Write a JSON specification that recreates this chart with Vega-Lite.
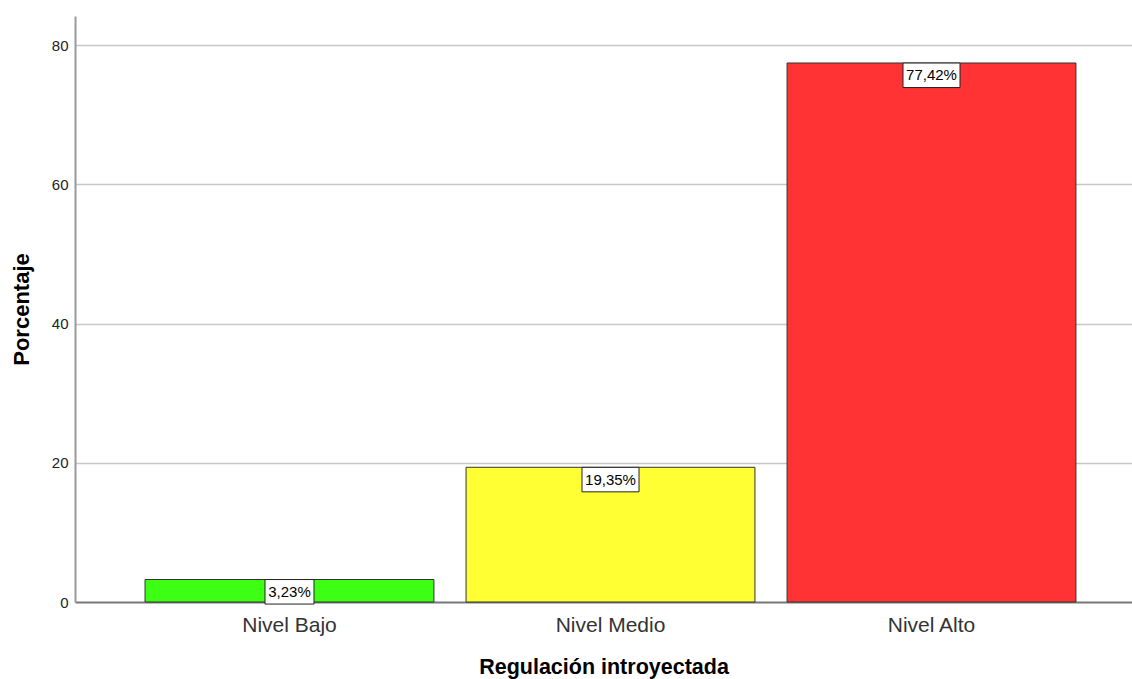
{
  "$schema": "https://vega.github.io/schema/vega-lite/v6.json",
  "autosize": {"type": "none"},
  "padding": {"left": 75, "top": 16, "right": 0, "bottom": 77},
  "width": 1057,
  "height": 586,
  "background": "white",
  "config": {
    "view": {"stroke": null},
    "font": "Liberation Sans"
  },
  "data": {
    "values": [
      {"nivel": "Nivel Bajo", "porcentaje": 3.23, "label": "3,23%"},
      {"nivel": "Nivel Medio", "porcentaje": 19.35, "label": "19,35%"},
      {"nivel": "Nivel Alto", "porcentaje": 77.42, "label": "77,42%"}
    ]
  },
  "encoding": {
    "x": {
      "field": "nivel",
      "type": "nominal",
      "sort": null,
      "scale": {"paddingInner": 0.1, "paddingOuter": 0.1964},
      "axis": {
        "title": "Regulación introyectada",
        "titleFont": "Liberation Sans",
        "titleFontSize": 21.5,
        "titleFontWeight": "bold",
        "titleColor": "#000000",
        "titlePadding": 21,
        "labelFont": "Liberation Sans",
        "labelFontSize": 21,
        "labelColor": "#333333",
        "labelAngle": 0,
        "labelPadding": 12,
        "labelOffset": 7,
        "ticks": false,
        "domain": false,
        "grid": false
      }
    },
    "y": {
      "field": "porcentaje",
      "type": "quantitative",
      "scale": {"domain": [0, 84.17], "nice": false},
      "axis": {
        "title": "Porcentaje",
        "titleFont": "Liberation Sans",
        "titleFontSize": 22,
        "titleFontWeight": "bold",
        "titleColor": "#000000",
        "titlePadding": 18,
        "labelFont": "Liberation Sans",
        "labelFontSize": 15,
        "labelColor": "#222222",
        "labelPadding": 7,
        "values": [0, 20, 40, 60, 80],
        "ticks": false,
        "domain": true,
        "domainColor": "#999999",
        "domainWidth": 2,
        "grid": true,
        "gridColor": {"condition": {"test": "datum.value === 0", "value": "#777777"}, "value": "#c8c8c8"},
        "gridWidth": {"condition": {"test": "datum.value === 0", "value": 2}, "value": 1.5},
        "gridOpacity": 1
      }
    }
  },
  "layer": [
    {
      "mark": {"type": "bar", "stroke": "#333333", "strokeWidth": 1, "xOffset": 7},
      "encoding": {
        "color": {
          "field": "nivel",
          "type": "nominal",
          "scale": {
            "domain": ["Nivel Bajo", "Nivel Medio", "Nivel Alto"],
            "range": ["#3cff14", "#ffff33", "#ff3333"]
          },
          "legend": null
        }
      }
    },
    {
      "mark": {
        "type": "point",
        "filled": true,
        "fill": "white",
        "stroke": "#222222",
        "strokeWidth": 1,
        "opacity": 1,
        "xOffset": 7,
        "yOffset": 12.3
      },
      "encoding": {
        "shape": {
          "condition": {"test": "length(datum.label) < 6", "value": "M-1,-0.5L1,-0.5L1,0.5L-1,0.5Z"},
          "value": "M-1,-0.43L1,-0.43L1,0.43L-1,0.43Z"
        },
        "size": {
          "condition": {"test": "length(datum.label) < 6", "value": 2401},
          "value": 3249
        }
      }
    },
    {
      "mark": {
        "type": "text",
        "font": "Liberation Sans",
        "fontSize": 15,
        "color": "#000000",
        "baseline": "middle",
        "align": "center",
        "xOffset": 7,
        "yOffset": 12.5
      },
      "encoding": {
        "text": {"field": "label", "type": "nominal"}
      }
    }
  ]
}
